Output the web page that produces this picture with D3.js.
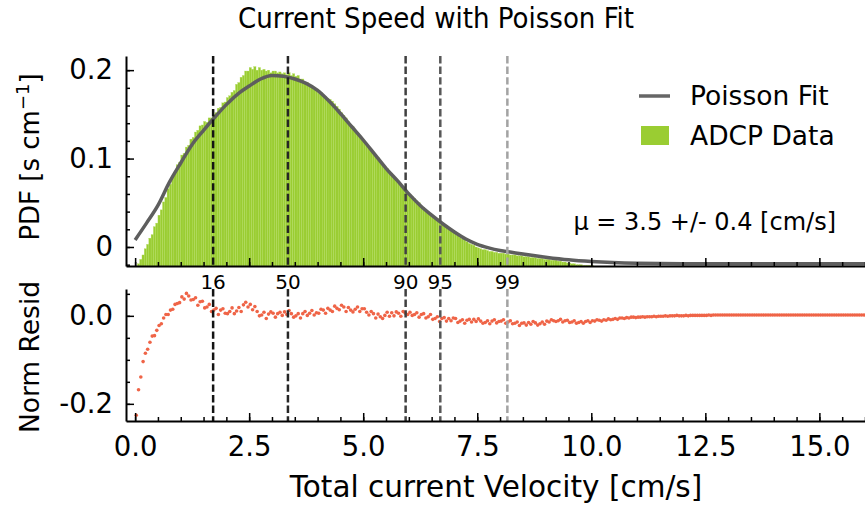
<!DOCTYPE html>
<html lang="en">
<head>
    <meta charset="UTF-8">
    <style>
        body { margin: 0; background: #fff; }
        svg text { font-family: "DejaVu Sans", sans-serif; fill: #000; }
    </style>
    <script src="https://d3js.org/d3.v7.min.js"></script>
    <title>Current Speed with Poisson Fit</title>
</head>
<body>
    <svg width="865" height="506"></svg>
    <script>

        // histogram of ADCP speeds: bins of 0.05 cm/s starting at 0.05
        var histStart = 0.05, histStep = 0.05;
        var histHeights = [
            -0.019,-0.014,-0.009,-0.002,0.003,0.010,0.014,0.023,0.027,0.036,0.042,0.051,0.056,0.066,0.071,0.080,0.084,0.093,0.096,0.104,
            0.106,0.113,0.115,0.122,0.124,0.130,0.132,0.137,0.138,0.142,0.141,0.146,0.146,0.150,0.152,0.157,0.158,0.163,0.164,0.169,
            0.171,0.175,0.177,0.184,0.186,0.192,0.194,0.199,0.199,0.203,0.201,0.204,0.200,0.203,0.200,0.201,0.199,0.200,0.197,0.199,
            0.199,0.197,0.198,0.196,0.197,0.195,0.197,0.194,0.196,0.193,0.194,0.190,0.190,0.186,0.186,0.182,0.182,0.178,0.178,0.174,
            0.175,0.172,0.170,0.168,0.167,0.165,0.162,0.159,0.156,0.152,0.149,0.146,0.142,0.139,0.136,0.132,0.129,0.126,0.123,0.120,
            0.117,0.113,0.109,0.107,0.103,0.101,0.097,0.095,0.091,0.089,0.085,0.083,0.079,0.077,0.073,0.071,0.068,0.065,0.062,0.059,
            0.057,0.055,0.052,0.050,0.046,0.045,0.041,0.040,0.037,0.036,0.033,0.032,0.029,0.028,0.025,0.024,0.021,0.020,0.017,0.016,
            0.013,0.011,0.009,0.008,0.006,0.004,0.003,0.002,0.000,-0.001,-0.002,-0.003,-0.003,-0.004,-0.005,-0.005,-0.006,-0.006,-0.007,-0.007,
            -0.007,-0.008,-0.008,-0.009,-0.009,-0.009,-0.010,-0.010,-0.010,-0.011,-0.011,-0.011,-0.012,-0.012,-0.012,-0.013,-0.013,-0.013,-0.014,-0.014,
            -0.014,-0.015,-0.015,-0.015,-0.016,-0.016,-0.017,-0.017,-0.018,-0.018,-0.019,-0.019,-0.020,-0.020,-0.020,-0.021,-0.021,-0.021,-0.021,-0.021
        ];

        // Poisson fit curve
        var fitX = [0, 0.25, 0.5, 0.75, 1.0, 1.25, 1.5, 1.75, 2.0, 2.25, 2.5, 2.75, 3.0, 3.25, 3.5, 3.75, 4.0,
                    4.25, 4.5, 4.75, 5.0, 5.25, 5.5, 5.75, 6.0, 6.25, 6.5, 6.75, 7.0, 7.25, 7.5, 7.75, 8.0,
                    8.25, 8.5, 9.0, 9.5, 10.0, 11.0, 12.0, 14.0, 16.0];
        var fitY = [0.008, 0.027, 0.047, 0.073, 0.095, 0.116, 0.132, 0.147, 0.161, 0.173, 0.182, 0.190, 0.194, 0.193, 0.190, 0.185, 0.177,
                    0.165, 0.151, 0.136, 0.121, 0.105, 0.089, 0.075, 0.060, 0.047, 0.036, 0.026, 0.017, 0.009, 0.003, -0.001, -0.004,
                    -0.006, -0.008, -0.0115, -0.0145, -0.0165, -0.0185, -0.019, -0.019, -0.019];

        // normalised residuals, one per 0.05 cm/s starting at 0.025
        var residStart = 0.025, residStep = 0.05;
        var residuals = [
            -0.226,-0.168,-0.139,-0.104,-0.085,-0.076,-0.060,-0.046,-0.045,-0.033,-0.022,-0.018,-0.005,0.003,0.003,0.013,0.015,0.026,0.028,0.030,
            0.043,0.038,0.051,0.045,0.036,0.037,0.041,0.024,0.032,0.033,0.018,0.020,0.026,0.010,0.013,0.017,0.003,0.013,0.016,0.006,
            0.005,0.010,0.018,0.005,0.011,0.019,0.010,0.025,0.031,0.020,0.026,0.014,0.021,0.010,0.000,0.002,0.008,-0.006,0.004,0.009,
            0.006,-0.003,0.005,0.008,0.001,0.009,0.003,0.012,0.005,-0.003,0.000,0.005,-0.005,0.005,0.010,0.001,0.006,0.012,0.002,0.007,
            0.006,0.015,0.013,0.006,0.017,0.013,0.010,0.022,0.017,0.014,0.024,0.020,0.010,0.019,0.013,0.009,0.015,0.020,0.010,0.016,
            0.016,0.008,0.002,0.010,0.005,-0.005,0.004,-0.002,-0.006,0.001,0.008,-0.001,0.007,0.000,0.009,0.006,-0.001,0.010,0.006,0.003,
            0.008,0.001,0.003,0.007,-0.003,0.003,0.005,-0.005,-0.002,0.003,-0.008,-0.006,-0.002,-0.013,-0.006,-0.004,-0.012,-0.006,-0.011,-0.005,
            -0.006,-0.015,-0.012,-0.009,-0.017,-0.010,-0.008,-0.014,-0.008,-0.013,-0.007,-0.012,-0.017,-0.015,-0.011,-0.018,-0.012,-0.009,-0.016,-0.013,
            -0.012,-0.009,-0.017,-0.014,-0.011,-0.018,-0.017,-0.014,-0.022,-0.017,-0.016,-0.021,-0.015,-0.019,-0.013,-0.016,-0.021,-0.018,-0.014,-0.019,
            -0.012,-0.014,-0.009,-0.011,-0.013,-0.011,-0.008,-0.014,-0.011,-0.010,-0.015,-0.014,-0.011,-0.017,-0.015,-0.013,-0.017,-0.013,-0.011,-0.015,
            -0.011,-0.012,-0.009,-0.010,-0.012,-0.009,-0.010,-0.007,-0.009,-0.008,-0.006,-0.008,-0.005,-0.005,-0.006,-0.004,-0.005,-0.003,-0.003,-0.004,
            -0.003,-0.003,-0.002,-0.003,-0.002,-0.002,-0.002,-0.001,-0.002,-0.001,-0.001,-0.001,0.000,-0.001,0.000,0.000,0.000,0.001,0.000,0.000,
            0.000,0.001,0.000,0.001,0.001,0.001,0.001,0.001,0.001,0.001,0.001,0.002,0.001,0.002,0.002,0.002,0.002,0.002,0.002,0.002,
            0.002,0.002,0.002,0.002,0.002,0.002,0.002,0.002,0.002,0.002,0.002,0.002,0.002,0.002,0.002,0.002,0.002,0.002,0.002,0.002,
            0.002,0.002,0.002,0.002,0.002,0.002,0.002,0.002,0.002,0.002,0.002,0.002,0.002,0.002,0.002,0.002,0.002,0.002,0.002,0.002,
            0.002,0.002,0.002,0.002,0.002,0.002,0.002,0.002,0.002,0.002,0.002,0.002,0.002,0.002,0.002,0.002,0.002,0.002,0.002,0.002
        ];

        // percentiles of the speed distribution
        var pctLabels = ["16", "50", "90", "95", "99"];
        var pctValues = [1.71, 3.35, 5.93, 6.69, 8.16];
        var pctColors = ["#141414", "#262626", "#404040", "#575757", "#a3a3a3"];

        var xTicks = [0, 2.5, 5, 7.5, 10, 12.5, 15];
        var xMinor = d3.range(0, 16.01, 0.5);
        var topTicks = [0, 0.1, 0.2];
        var topMinor = d3.range(-0.02, 0.215, 0.02);
        var botTicks = [0, -0.2];
        var botMinor = [-0.2, -0.15, -0.1, -0.05, 0, 0.05];

        var svg = d3.select("svg");

        var x = d3.scaleLinear().domain([-0.2, 16.0]).range([126, 865]);
        var yTop = d3.scaleLinear().domain([-0.0215, 0.216]).range([266, 56]);
        var yBot = d3.scaleLinear().domain([-0.239, 0.061]).range([421, 289]);

        // title
        svg.append("text")
           .attr("x", 436).attr("y", 18).attr("dy", "0.35em")
           .attr("text-anchor", "middle")
           .style("font-family", "'DejaVu Sans Condensed', 'DejaVu Sans', sans-serif")
           .style("font-size", "29px")
           .text("Current Speed with Poisson Fit");

        // histogram bars
        var bw = x(histStep) - x(0);
        svg.append("g").selectAll("rect")
           .data(histHeights)
           .enter().append("rect")
           .attr("x", function(d, i) { return x(histStart + i * histStep); })
           .attr("width", bw)
           .attr("y", function(d) { return yTop(d); })
           .attr("height", function(d) { return Math.max(0, yTop.range()[0] - yTop(d)); })
           .attr("fill", "#9acd32")
           .attr("stroke", "#b4dc60")
           .attr("stroke-width", 0.3);

        // fit line
        var line = d3.line()
            .x(function(d) { return x(d[0]); })
            .y(function(d) { return yTop(d[1]); })
            .curve(d3.curveMonotoneX);

        svg.append("path")
           .datum(d3.zip(fitX, fitY))
           .attr("d", line)
           .attr("fill", "none")
           .attr("stroke", "#5e5e5e")
           .attr("stroke-width", 3.5);

        // residual dots
        svg.append("g").selectAll("circle")
           .data(residuals)
           .enter().append("circle")
           .attr("cx", function(d, i) { return x(residStart + i * residStep); })
           .attr("cy", function(d) { return yBot(d); })
           .attr("r", 1.8)
           .attr("fill", "#ef6447");

        // percentile dashed lines in both panels
        pctValues.forEach(function(v, i) {
            [yTop, yBot].forEach(function(ys) {
                svg.append("line")
                   .attr("x1", x(v)).attr("x2", x(v))
                   .attr("y1", ys.range()[1]).attr("y2", ys.range()[0])
                   .attr("stroke", pctColors[i])
                   .attr("stroke-width", 2.5)
                   .attr("stroke-dasharray", "7.4,3.2");
            });
            svg.append("text")
               .attr("x", x(v)).attr("y", 282).attr("dy", "0.36em")
               .attr("text-anchor", "middle")
               .style("font-size", "20px")
               .text(pctLabels[i]);
        });

        // axes helpers
        function styleAxis(g, size) {
            g.select(".domain").attr("stroke-width", 2).attr("stroke", "#000");
            g.selectAll(".tick line").attr("stroke-width", 1.5);
            g.selectAll("text").style("font-size", size + "px")
             .style("font-family", "'DejaVu Sans', sans-serif");
        }

        // top panel x axis (no labels)
        var gxTop = svg.append("g").attr("transform", "translate(0," + yTop.range()[0] + ")");
        gxTop.call(d3.axisBottom(x).tickValues(xMinor).tickSize(-4).tickSizeOuter(0).tickFormat(""));
        gxTop.append("g").call(d3.axisBottom(x).tickValues(xTicks).tickSize(-8).tickSizeOuter(0).tickFormat(""))
             .select(".domain").remove();
        styleAxis(gxTop, 27);

        // bottom panel x axis
        var gxBot = svg.append("g").attr("transform", "translate(0," + yBot.range()[0] + ")");
        gxBot.call(d3.axisBottom(x).tickValues(xMinor).tickSize(-4).tickSizeOuter(0).tickFormat(""));
        var gxBotMaj = gxBot.append("g").call(d3.axisBottom(x).tickValues(xTicks).tickSize(-8)
             .tickSizeOuter(0).tickPadding(15).tickFormat(d3.format(".1f")));
        gxBotMaj.select(".domain").remove();
        styleAxis(gxBot, 27.5);

        // top panel y axis
        var gyTop = svg.append("g").attr("transform", "translate(" + x.range()[0] + ",0)");
        gyTop.call(d3.axisLeft(yTop).tickValues(topMinor).tickSize(-4).tickSizeOuter(0).tickFormat(""));
        gyTop.append("g").call(d3.axisLeft(yTop).tickValues(topTicks).tickSize(-8).tickSizeOuter(0)
             .tickPadding(13).tickFormat(function(d) { return d === 0 ? "0" : d3.format(".1f")(d); }))
             .select(".domain").remove();
        styleAxis(gyTop, 27.5);

        // bottom panel y axis
        var gyBot = svg.append("g").attr("transform", "translate(" + x.range()[0] + ",0)");
        gyBot.call(d3.axisLeft(yBot).tickValues(botMinor).tickSize(-4).tickSizeOuter(0).tickFormat(""));
        gyBot.append("g").call(d3.axisLeft(yBot).tickValues(botTicks).tickSize(-8).tickSizeOuter(0)
             .tickPadding(13).tickFormat(function(d) { return d3.format(".1f")(d).replace("\u2212", "-"); }))
             .select(".domain").remove();
        styleAxis(gyBot, 27.5);

        // axis labels
        svg.append("text")
           .attr("x", 496).attr("y", 487).attr("dy", "0.35em")
           .attr("text-anchor", "middle")
           .style("font-size", "29.5px")
           .text("Total current Velocity [cm/s]");

        var pdfLabel = svg.append("text")
           .attr("transform", "translate(30,157) rotate(-90)")
           .attr("dy", "0.35em")
           .attr("text-anchor", "middle")
           .style("font-size", "26px");
        pdfLabel.append("tspan").text("PDF [s cm");
        pdfLabel.append("tspan").attr("baseline-shift", "super").style("font-size", "18px").text("\u22121");
        pdfLabel.append("tspan").text("]");

        svg.append("text")
           .attr("transform", "translate(30,357) rotate(-90)")
           .attr("dy", "0.35em")
           .attr("text-anchor", "middle")
           .style("font-size", "26.5px")
           .text("Norm Resid");

        // legend
        svg.append("line")
           .attr("x1", 639).attr("x2", 670).attr("y1", 96).attr("y2", 96)
           .attr("stroke", "#666").attr("stroke-width", 3.5);
        svg.append("text").attr("x", 690).attr("y", 96).attr("dy", "0.35em")
           .style("font-size", "26.5px").text("Poisson Fit");
        svg.append("rect")
           .attr("x", 641).attr("y", 126).attr("width", 28).attr("height", 19)
           .attr("fill", "#9acd32");
        svg.append("text").attr("x", 690).attr("y", 136).attr("dy", "0.35em")
           .style("font-size", "26.5px").text("ADCP Data");

        // fit parameter
        svg.append("text").attr("x", 836).attr("y", 222).attr("dy", "0.35em")
           .attr("text-anchor", "end")
           .style("font-size", "24px")
           .text("\u03bc = 3.5 +/- 0.4 [cm/s]");

    </script>
</body>
</html>
